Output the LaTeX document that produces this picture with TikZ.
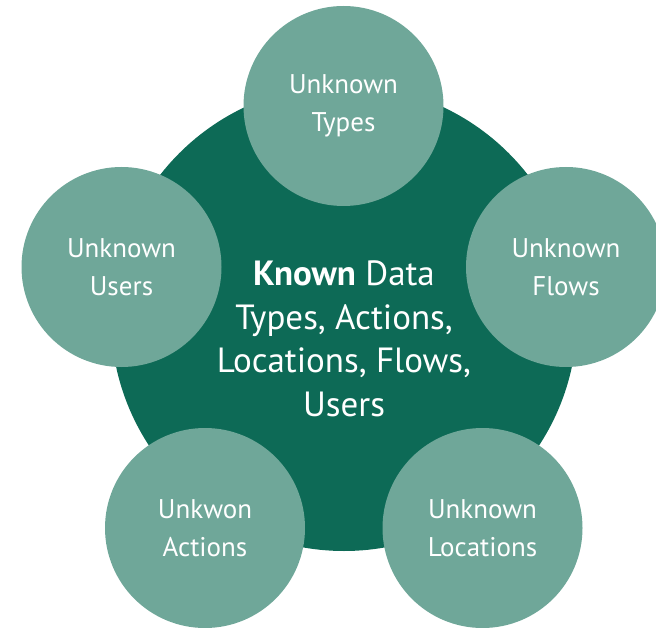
\documentclass[tikz,border=0pt]{standalone}
\usepackage{fontspec}
\setmainfont{PT Sans}
\definecolor{darkg}{HTML}{0D6A56}
\definecolor{lightg}{HTML}{6FA799}
\begin{document}
\begin{tikzpicture}[x=1pt,y=-1pt,
  big/.style={circle,fill=darkg,minimum size=466pt,inner sep=0pt},
  small/.style={circle,fill=lightg,minimum size=200pt,inner sep=0pt,text=white,align=center,font=\fontsize{27}{37.5}\selectfont},
  ctext/.style={text=white,align=center,font=\fontsize{35}{43.5}\selectfont}]
\useasboundingbox (0,0) rectangle (656,628);
\clip (0,0) rectangle (656,628);
\node[big] (known) at (344,318) {};
\node[small] (types) at (343.5,106) {Unknown\\Types};
\node[small] (users) at (121.5,267) {Unknown\\Users};
\node[small] (flows) at (566,267) {Unknown\\Flows};
\node[small] (actions) at (205,528) {Unkwon\\Actions};
\node[small] (locations) at (482.5,528) {Unknown\\Locations};
\node[ctext] (label) at (344,339) {\textbf{Known} Data\\Types, Actions,\\Locations, Flows,\\Users};
\end{tikzpicture}
\end{document}
